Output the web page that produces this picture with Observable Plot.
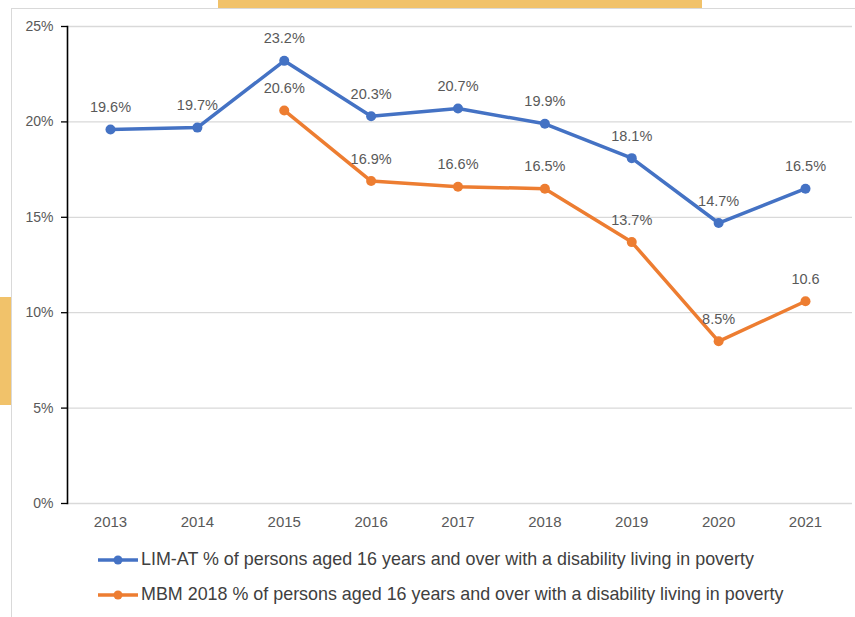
<!DOCTYPE html>
<html><head><meta charset="utf-8">
<script src="https://cdn.jsdelivr.net/npm/d3@7"></script>
<script src="https://cdn.jsdelivr.net/npm/@observablehq/plot@0.6"></script>
<style>
body{margin:0;background:#fff;width:855px;height:617px;overflow:hidden;position:relative;font-family:"Liberation Sans",Arial,sans-serif}
.bg{position:absolute;background:#f1c26a}
#panel{position:absolute;left:11px;top:8px;width:844px;height:609px;border-left:1px solid #d9d9d9;border-top:1px solid #d9d9d9;background:#fff}
#chart{position:absolute;left:0;top:0}
#legend{position:absolute;left:97px;top:547px;color:#404040;font-size:17.9px}
.row{display:flex;align-items:center;height:25px;margin-bottom:10px;white-space:nowrap}
.row svg{margin-right:2px}
</style>
</head><body>
<div class="bg" style="left:218px;top:0;width:484px;height:9px"></div>
<div class="bg" style="left:0;top:297px;width:11px;height:108px"></div>
<div id="panel"></div>
<div id="chart"></div>
<div id="legend"></div>
<script>
const years = [2013, 2014, 2015, 2016, 2017, 2018, 2019, 2020, 2021];
const limat = [19.6, 19.7, 23.2, 20.3, 20.7, 19.9, 18.1, 14.7, 16.5];
const mbm = [null, null, 20.6, 16.9, 16.6, 16.5, 13.7, 8.5, 10.6];
const limatLabels = ["19.6%", "19.7%", "23.2%", "20.3%", "20.7%", "19.9%", "18.1%", "14.7%", "16.5%"];
const mbmLabels = [null, null, "20.6%", "16.9%", "16.6%", "16.5%", "13.7%", "8.5%", "10.6"];
const yTicks = [0, 5, 10, 15, 20, 25];
const seriesNames = [
  "LIM-AT % of persons aged 16 years and over with a disability living in poverty",
  "MBM 2018 % of persons aged 16 years and over with a disability living in poverty"
];
const colors = ["#4472C4", "#ED7D31"];

const rowsA = years.map((y, i) => ({year: y, v: limat[i], label: limatLabels[i]}));
const rowsB = years.map((y, i) => ({year: y, v: mbm[i], label: mbmLabels[i]})).filter(d => d.v != null);

const chart = Plot.plot({
  width: 855,
  height: 540,
  marginLeft: 67,
  marginRight: 3,
  marginTop: 26,
  marginBottom: 37,
  style: {fontFamily: '"Liberation Sans", Arial, sans-serif', background: "transparent"},
  x: {type: "point", domain: years, range: [110, 805], padding: 0, round: false, label: null},
  y: {domain: [0, 25], label: null},
  marks: [
    Plot.ruleY(yTicks, {stroke: "#d9d9d9", strokeWidth: 1.3}),
    Plot.frame({anchor: "left", stroke: "#000", strokeWidth: 1.6}),
    Plot.axisY({ticks: yTicks, tickFormat: d => d + "%", tickSize: 6, tickPadding: 8, fontSize: 14, fill: "#595959", stroke: "#000", strokeWidth: 1.3}),
    Plot.axisX({tickSize: 0, tickPadding: 13, fontSize: 15, fill: "#595959", tickFormat: d => String(d)}),
    Plot.lineY(rowsA, {x: "year", y: "v", stroke: colors[0], strokeWidth: 3.5}),
    Plot.lineY(rowsB, {x: "year", y: "v", stroke: colors[1], strokeWidth: 3.5}),
    Plot.dot(rowsA, {x: "year", y: "v", fill: colors[0], r: 5}),
    Plot.dot(rowsB, {x: "year", y: "v", fill: colors[1], r: 5}),
    Plot.text(rowsA, {x: "year", y: "v", text: "label", dy: -22, fontSize: 14.5, fill: "#595959"}),
    Plot.text(rowsB, {x: "year", y: "v", text: "label", dy: -22, fontSize: 14.5, fill: "#595959"})
  ]
});
document.getElementById("chart").appendChild(chart);

const legend = document.getElementById("legend");
seriesNames.forEach((name, i) => {
  const row = document.createElement("div");
  row.className = "row";
  row.innerHTML = `<svg width="42" height="12"><line x1="1" y1="6" x2="41" y2="6" stroke="${colors[i]}" stroke-width="3.5"/><circle cx="21" cy="6" r="4.5" fill="${colors[i]}"/></svg><span>${name}</span>`;
  legend.appendChild(row);
});
</script>
</body></html>
